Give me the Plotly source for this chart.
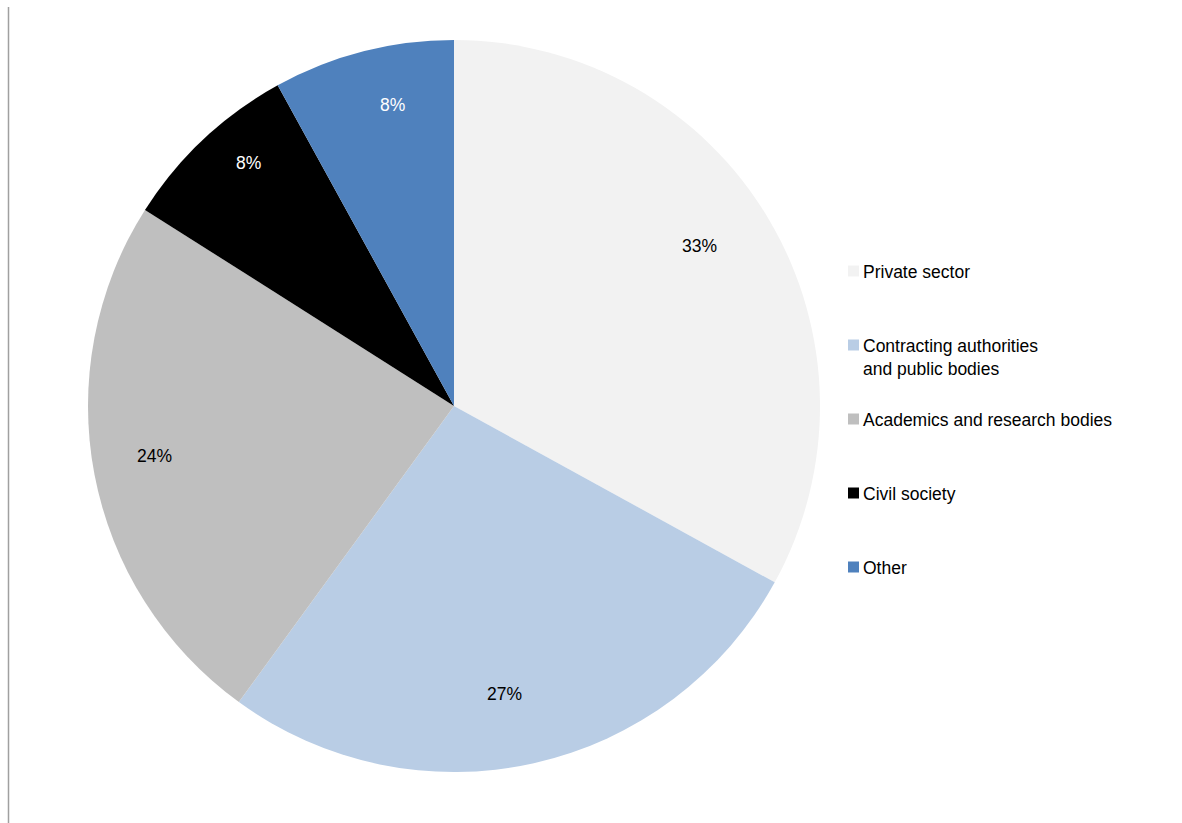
import math
import plotly.graph_objects as go

# Share of respondents by stakeholder type (%)
categories = [
    "Private sector",
    "Contracting authorities and public bodies",
    "Academics and research bodies",
    "Civil society",
    "Other",
]
legend_text = [
    "Private sector",
    "Contracting authorities<br>and public bodies",
    "Academics and research bodies",
    "Civil society",
    "Other",
]
shares = [33, 27, 24, 8, 8]
colors = ["#F2F2F2", "#B9CDE5", "#BFBFBF", "#000000", "#4F81BD"]

# Per-slice label placement: fraction of radius and angular nudge (deg)
label_radius = [0.80, 0.80, 0.83, 0.87, 0.84]
label_nudge = [-2.5, 2.7, 1.4, 2.9, 2.9]

W, H = 1182, 823
CX, CY, R = 454, 406, 366          # pie centre (px from top-left) and radius
FONT = "Liberation Sans, Arial, sans-serif"
FS = 17.5

fig = go.Figure(
    go.Pie(
        labels=categories,
        values=shares,
        marker=dict(colors=colors, line=dict(width=0)),
        sort=False,
        direction="clockwise",
        rotation=0,
        textinfo="none",
        hoverinfo="label+percent",
        showlegend=False,
        domain=dict(x=[(CX - R) / W, (CX + R) / W],
                    y=[(H - CY - R) / H, (H - CY + R) / H]),
    )
)


def is_dark(hex_color):
    r, g, b = (int(hex_color[i:i + 2], 16) for i in (1, 3, 5))
    return 0.299 * r + 0.587 * g + 0.114 * b < 128


# Percentage labels placed along each slice's bisector
total = sum(shares)
cum = 0
annotations = []
for val, col, frac, nudge in zip(shares, colors, label_radius, label_nudge):
    mid = (cum + val / 2) / total
    cum += val
    theta = 2 * math.pi * mid + math.radians(nudge)
    rl = frac * R
    px = CX + rl * math.sin(theta)
    py = CY - rl * math.cos(theta)
    annotations.append(dict(
        x=px / W, y=(H - py) / H, xref="paper", yref="paper",
        text=f"{val}%", showarrow=False,
        font=dict(family=FONT, size=FS, color="white" if is_dark(col) else "black"),
        xanchor="center", yanchor="middle",
    ))

# Legend: coloured squares with their category names
shapes = []
LX, LY0, LSTEP, SQ = 848, 271, 74, 11
for i, (txt, col) in enumerate(zip(legend_text, colors)):
    yc = LY0 + i * LSTEP
    shapes.append(dict(
        type="rect", xref="paper", yref="paper",
        x0=LX / W, x1=(LX + SQ) / W,
        y0=(H - yc - SQ / 2) / H, y1=(H - yc + SQ / 2) / H,
        fillcolor=col, line=dict(width=0),
    ))
    annotations.append(dict(
        x=(LX + SQ + 2) / W, y=(H - yc + 11) / H, xref="paper", yref="paper",
        text=txt, showarrow=False, align="left",
        font=dict(family=FONT, size=FS, color="black"),
        xanchor="left", yanchor="top",
    ))

# Thin grey rule on the left edge
shapes.append(dict(
    type="line", xref="paper", yref="paper",
    x0=8.5 / W, x1=8.5 / W, y0=0, y1=(H - 7) / H,
    line=dict(color="#A0A0A0", width=1.5),
))

fig.update_layout(
    width=W, height=H,
    margin=dict(l=0, r=0, t=0, b=0),
    paper_bgcolor="white",
    plot_bgcolor="white",
    annotations=annotations,
    shapes=shapes,
    font=dict(family=FONT),
)

fig.write_html("out.html")
